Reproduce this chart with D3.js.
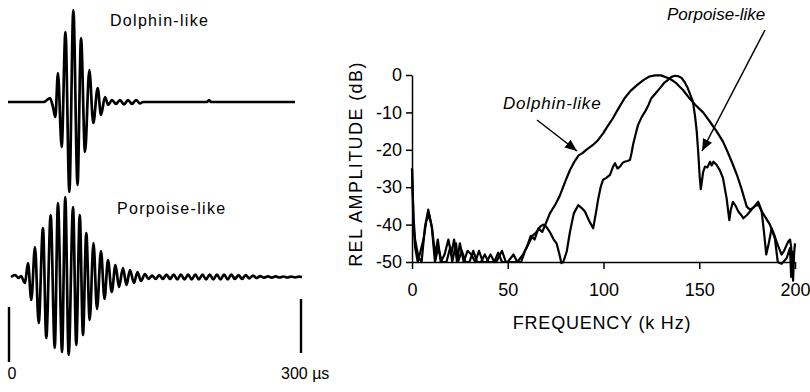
<!DOCTYPE html>
<html>
<head>
<meta charset="utf-8">
<script src="https://cdn.jsdelivr.net/npm/d3@7"></script>
<style>
  body { margin: 0; background: #fff; }
  svg { font-family: "Liberation Sans", Arial, Helvetica, sans-serif; }
</style>
</head>
<body>
<script>
// Waveforms: [time (µs), relative amplitude]
const dolphinWave = [
  [-1, 0], [36, 0], [39, 0.02], [42.1, 0.04], [45.2, -0.05], [47.6, -0.15],
  [50.3, 0.29], [54.1, -0.45], [58, 0.70], [62, -0.90], [66.1, 0.92], [70.4, -0.83],
  [74, 0.64], [78.1, -0.50], [82.5, 0.32], [86.6, -0.21], [91.1, 0.14], [94.5, -0.13],
  [98.6, 0.05], [102, -0.03], [105.8, 0.02], [109.9, -0.02], [114, 0.02], [118.2, -0.025],
  [122.3, 0.02], [126.4, -0.02], [130.5, 0.02], [134.6, -0.015], [137.7, 0],
  [203.4, 0], [205.5, 0.02], [207.5, 0], [293.8, 0]
];

const porpoiseWave = [
  [2.1, 0], [6.2, 0.02], [9.8, -0.01], [12.3, 0.01], [16.4, -0.06], [19.5, 0.14],
  [22.9, -0.23], [26.7, 0.30], [30.5, -0.46], [34.9, 0.49], [38.3, -0.61], [42.8, 0.62],
  [47.0, -0.71], [50.3, 0.74], [54.5, -0.75], [57.8, 0.80], [61.3, -0.78], [65.8, 0.70],
  [69.1, -0.68], [72.7, 0.62], [76.0, -0.58], [79.4, 0.44], [82.9, -0.43], [86.8, 0.34],
  [90.4, -0.32], [94.5, 0.26], [98.1, -0.22], [101.7, 0.17], [105.5, -0.15], [109.4, 0.12],
  [113.0, -0.10], [117.1, 0.09], [120.7, -0.08], [124.3, 0.07], [128.4, -0.06], [132.0, 0.05],
  [135.6, -0.04], [139.7, 0.03], [143.3, -0.02], [147.0, 0.015], [150.7, -0.02], [154.4, 0.02],
  [158.1, -0.02], [161.8, 0.025], [165.5, -0.02], [169.2, 0.025], [172.9, -0.025], [176.6, 0.025],
  [180.3, -0.025], [184.0, 0.025], [187.7, -0.025], [191.4, 0.025], [195.1, -0.025], [198.8, 0.025],
  [202.5, -0.025], [206.2, 0.025], [209.9, -0.025], [213.6, 0.025], [217.3, -0.025], [221.0, 0.025],
  [224.7, -0.025], [228.4, 0.025], [232.1, -0.02], [235.8, 0.02], [239.5, -0.02], [243.2, 0.02],
  [246.9, -0.015], [250.6, 0.015], [254.3, -0.01], [258, 0.008], [262, -0.006], [266, 0.006],
  [270, -0.006], [274, 0.006], [278, -0.005], [282, 0.005], [286, -0.005], [290, 0.004],
  [294, -0.004], [298, 0.004], [301, 0]
];

// Time marks under the waveforms
const timeMarks = [0, 300];
const timeLabels = ["0", "300 µs"];

// Spectra: [frequency (kHz), relative amplitude (dB)]
const dolphinSpectrum = [
  [0, -25], [0.8, -38], [1.6, -44], [3.3, -48.6], [5, -50], [6.8, -40.5], [8.5, -36],
  [10.3, -40.5], [12, -50], [13.7, -46], [15.5, -50], [18, -50], [20, -46], [21, -50],
  [23, -45], [24, -50], [26, -47], [28, -50], [30, -50], [32, -47], [34, -50], [36, -50],
  [38, -48], [40, -50], [44, -50], [47, -47], [49, -50], [52, -50], [55, -50], [58, -48],
  [60, -46], [62, -43], [64, -44], [66, -41], [68, -42], [70, -39.5], [72, -37], [75, -34.5],
  [77, -32.5], [80, -28.5], [82.5, -25.4], [85, -23], [87, -21.5], [89, -20.9], [91, -20],
  [94.5, -18.7], [97, -17.5], [99.8, -15.6], [102, -13.8], [105, -11.5], [108, -8.8],
  [111, -6.2], [114, -4.3], [117.5, -2.7], [121, -1.3], [124, -0.4], [127, -0.1], [130, -0.1],
  [134.7, -1], [138, -2.2], [141.5, -4], [145, -6.3], [148, -8], [152, -10], [155.6, -12.5],
  [159, -15], [162.4, -17.8], [165, -20.8], [167.6, -24], [170, -27.2], [172, -30.3],
  [174.8, -35.2], [176.5, -36], [178, -35.6], [180.8, -33.9], [182.7, -36.5], [184.5, -38],
  [186.9, -40], [189.5, -43.7], [191, -50], [193, -50.5], [195.6, -49], [197.4, -46.3],
  [198, -54], [198.6, -47]
];

const porpoiseSpectrum = [
  [0, -25], [0.8, -40], [1.6, -46], [3, -50], [4.5, -47], [6, -44], [7.5, -39], [9, -37.5],
  [10.5, -41], [12, -48], [13.5, -44], [15, -50], [17, -48], [19, -44], [20.5, -48], [22, -44],
  [23.5, -50], [25, -45], [27, -50], [29, -47], [31, -48], [33, -50], [35, -47], [37, -50],
  [39, -50], [41, -48], [43, -50], [45, -47.5], [47, -50], [50, -50], [53, -48], [55, -50],
  [57, -50], [59, -47], [61, -45], [63, -43], [65, -42], [67, -40.5], [68.5, -40], [70, -40.5],
  [72, -42], [74, -44], [75.5, -45], [77, -48], [78, -50.3], [79, -50], [80.8, -47.2],
  [82.5, -41.9], [84.5, -37], [86.8, -34.8], [88.5, -35.5], [90.3, -36.5], [92.5, -39],
  [94.6, -41], [96, -37], [97.3, -33], [98.5, -30], [99.8, -28], [101.5, -27.5], [103.4, -26.7],
  [105, -24.5], [106, -23.6], [107.3, -25], [108.6, -24.5], [110, -23.5], [111, -23.2],
  [112.5, -23], [113.8, -22.7], [114.6, -21], [115.4, -18.7], [116.7, -16], [118, -13.4],
  [120, -11.2], [121.7, -9.8], [123.5, -8], [125, -6.2], [127, -5], [129.5, -3.5], [131.5, -2.2],
  [133.7, -1.3], [135.5, -0.5], [137.3, -0.2], [139, -0.3], [140.8, -0.8], [142.5, -2],
  [144, -3.5], [145.5, -5.5], [146.7, -7.1], [147.8, -11], [148.7, -15.2], [149.5, -21],
  [150.2, -27], [150.8, -30.5], [151.5, -28], [152, -26], [153, -24.5], [154.3, -24.7],
  [155.6, -23.2], [156.5, -24.2], [157.4, -23.2], [159, -24], [160.8, -25.5], [162.4, -27.6],
  [164.3, -33], [165.7, -38.8], [166.5, -36], [167.6, -33.9], [169, -35], [170.4, -36.5],
  [172, -37.5], [173, -38.3], [174.8, -37.5], [176.5, -36.5], [178, -35.5], [180, -34.7],
  [181.3, -35], [182.6, -36.5], [183.8, -42], [185, -48], [186.3, -45], [187.8, -41],
  [189, -42.5], [190.4, -44.6], [191.8, -46.5], [193, -48], [194.3, -47], [195.6, -45.5],
  [196.5, -44.5], [197.4, -44], [198, -46], [198.6, -51], [199, -55], [199.5, -48], [200, -45]
];

const freqTicks = [0, 50, 100, 150, 200];
const dbTicks = [0, -10, -20, -30, -40, -50];

const width = 810;
const height = 392;

const svg = d3.select("body")
  .append("svg")
  .attr("width", width)
  .attr("height", height);

svg.append("defs").append("marker")
  .attr("id", "head")
  .attr("viewBox", "0 0 12 10")
  .attr("refX", 12)
  .attr("refY", 5)
  .attr("markerWidth", 12)
  .attr("markerHeight", 10)
  .attr("markerUnits", "userSpaceOnUse")
  .attr("orient", "auto")
  .append("path")
  .attr("d", "M0,0 L12,5 L0,10 Z")
  .attr("fill", "#000");

// ---- left panel: waveforms ----
const tScale = d3.scaleLinear().domain([0, 300]).range([9, 301]);
const yDolphin = d3.scaleLinear().domain([-1, 1]).range([202, 2]);
const yPorpoise = d3.scaleLinear().domain([-1, 1]).range([377, 177]);

const waveLine = yS => d3.line()
  .x(d => tScale(d[0]))
  .y(d => yS(d[1]))
  .curve(d3.curveMonotoneX);

svg.append("path")
  .datum(dolphinWave)
  .attr("d", waveLine(yDolphin))
  .attr("fill", "none")
  .attr("stroke", "#000")
  .attr("stroke-width", 2.7);

svg.append("path")
  .datum(porpoiseWave)
  .attr("d", waveLine(yPorpoise))
  .attr("fill", "none")
  .attr("stroke", "#000")
  .attr("stroke-width", 2.7);

svg.append("text")
  .attr("x", 110).attr("y", 26)
  .attr("font-size", 16)
  .attr("letter-spacing", 1.3)
  .text("Dolphin-like");

svg.append("text")
  .attr("x", 117).attr("y", 214)
  .attr("font-size", 16)
  .attr("letter-spacing", 1.3)
  .text("Porpoise-like");

// time scale bars
const barTop = [307, 299];
const barBottom = [362, 353];
svg.selectAll(".tbar")
  .data(timeMarks)
  .enter()
  .append("line")
  .attr("x1", d => tScale(d))
  .attr("x2", d => tScale(d))
  .attr("y1", (d, i) => barTop[i])
  .attr("y2", (d, i) => barBottom[i])
  .attr("stroke", "#000")
  .attr("stroke-width", 2.4);

svg.selectAll(".tlab")
  .data(timeMarks)
  .enter()
  .append("text")
  .attr("x", (d, i) => i === 0 ? tScale(d) + 3 : tScale(d) - 20)
  .attr("y", 379)
  .attr("font-size", 16)
  .attr("text-anchor", (d, i) => i === 0 ? "middle" : "start")
  .text((d, i) => timeLabels[i]);

// ---- right panel: spectra ----
const x = d3.scaleLinear().domain([0, 200]).range([412, 795]);
const y = d3.scaleLinear().domain([-50, 0]).range([262, 75]);

const xAxis = svg.append("g")
  .attr("transform", `translate(0,${y(-50)})`)
  .call(d3.axisBottom(x).tickValues(freqTicks).tickSize(7).tickSizeOuter(0).tickPadding(14));

const yAxis = svg.append("g")
  .attr("transform", `translate(${x(0)},0)`)
  .call(d3.axisLeft(y).tickValues(dbTicks).tickSize(6).tickSizeOuter(0).tickPadding(4)
    .tickFormat(d => String(d)));

[xAxis, yAxis].forEach(g => {
  g.selectAll("path, line").attr("stroke", "#000").attr("stroke-width", 1.5);
  g.selectAll("text")
    .attr("fill", "#000")
    .attr("font-size", 18)
    .attr("font-family", "Liberation Sans, Arial, sans-serif");
});

const specLine = d3.line()
  .x(d => x(d[0]))
  .y(d => y(d[1]));

svg.append("path")
  .datum(dolphinSpectrum)
  .attr("d", specLine)
  .attr("fill", "none")
  .attr("stroke", "#000")
  .attr("stroke-width", 2.2)
  .attr("stroke-linejoin", "round");

svg.append("path")
  .datum(porpoiseSpectrum)
  .attr("d", specLine)
  .attr("fill", "none")
  .attr("stroke", "#000")
  .attr("stroke-width", 2.2)
  .attr("stroke-linejoin", "round");

// axis titles
svg.append("text")
  .attr("transform", "translate(362,164) rotate(-90)")
  .attr("text-anchor", "middle")
  .attr("font-size", 18)
  .attr("letter-spacing", 1.4)
  .text("REL AMPLITUDE (dB)");

svg.append("text")
  .attr("x", 602).attr("y", 329)
  .attr("text-anchor", "middle")
  .attr("font-size", 18)
  .attr("letter-spacing", 0.8)
  .text("FREQUENCY (k Hz)");

// curve annotations
svg.append("text")
  .attr("x", 503).attr("y", 109)
  .attr("font-size", 17)
  .attr("font-style", "italic")
  .attr("letter-spacing", 0.8)
  .text("Dolphin-like");

svg.append("text")
  .attr("x", 667).attr("y", 20)
  .attr("font-size", 17)
  .attr("font-style", "italic")
  .text("Porpoise-like");

svg.append("line")
  .attr("x1", 537).attr("y1", 120)
  .attr("x2", 577).attr("y2", 151)
  .attr("stroke", "#000")
  .attr("stroke-width", 1.5)
  .attr("marker-end", "url(#head)");

svg.append("line")
  .attr("x1", 765).attr("y1", 30)
  .attr("x2", 702).attr("y2", 151)
  .attr("stroke", "#000")
  .attr("stroke-width", 1.5)
  .attr("marker-end", "url(#head)");
</script>
</body>
</html>
